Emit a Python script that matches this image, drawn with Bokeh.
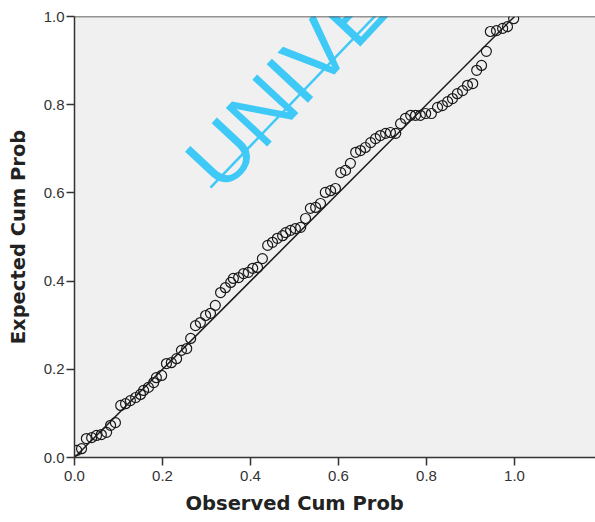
from bokeh.plotting import figure
from bokeh.models import Range1d, FixedTicker, PrintfTickFormatter, Span, Title
from bokeh.core.properties import value
from bokeh.embed import file_html
from bokeh.resources import INLINE

# Observed cumulative probability (x) and expected cumulative probability (y)
observed = [0.005, 0.016, 0.027, 0.039, 0.050, 0.061, 0.073, 0.082, 0.093, 0.105,
            0.116, 0.127, 0.139, 0.150, 0.157, 0.168, 0.180, 0.186, 0.198, 0.209,
            0.220, 0.232, 0.243, 0.255, 0.264, 0.275, 0.286, 0.298, 0.309, 0.320,
            0.332, 0.343, 0.355, 0.361, 0.373, 0.384, 0.395, 0.405, 0.416, 0.427,
            0.439, 0.450, 0.461, 0.473, 0.480, 0.491, 0.502, 0.514, 0.525, 0.536,
            0.548, 0.559, 0.570, 0.582, 0.593, 0.605, 0.616, 0.627, 0.639, 0.650,
            0.661, 0.673, 0.684, 0.695, 0.707, 0.718, 0.730, 0.741, 0.752, 0.764,
            0.775, 0.786, 0.798, 0.811, 0.825, 0.836, 0.848, 0.859, 0.870, 0.882,
            0.893, 0.905, 0.914, 0.925, 0.936, 0.945, 0.959, 0.973, 0.984, 0.998]
expected = [0.016, 0.020, 0.043, 0.045, 0.050, 0.052, 0.057, 0.073, 0.079, 0.118,
            0.122, 0.129, 0.136, 0.143, 0.152, 0.159, 0.170, 0.181, 0.186, 0.213,
            0.215, 0.224, 0.243, 0.247, 0.270, 0.299, 0.306, 0.322, 0.327, 0.345,
            0.374, 0.385, 0.397, 0.406, 0.408, 0.417, 0.420, 0.429, 0.431, 0.451,
            0.481, 0.488, 0.497, 0.503, 0.510, 0.515, 0.519, 0.522, 0.542, 0.565,
            0.567, 0.576, 0.601, 0.605, 0.610, 0.646, 0.651, 0.667, 0.692, 0.696,
            0.703, 0.714, 0.723, 0.730, 0.735, 0.737, 0.735, 0.757, 0.769, 0.776,
            0.776, 0.776, 0.780, 0.780, 0.794, 0.798, 0.807, 0.814, 0.825, 0.832,
            0.844, 0.848, 0.878, 0.889, 0.921, 0.966, 0.968, 0.973, 0.977, 0.995]

# Reference (diagonal) line
ref_x = [0.0, 1.0]
ref_y = [0.0, 1.0]

tick_values = [0.0, 0.2, 0.4, 0.6, 0.8, 1.0]

# Watermark (partially visible)
wm_text = ["UNIVERSITAS"]
wm_x = [0.288]
wm_y = [0.64]
wm_line_x = [0.309, 0.73]
wm_line_y = [0.612, 1.05]

p = figure(width=595, height=522, x_range=Range1d(0, 1.184), y_range=Range1d(0, 1),
           output_backend="svg", toolbar_location=None,
           min_border_left=74, min_border_right=0, min_border_top=16, min_border_bottom=65)

p.background_fill_color = "#F0F0F0"
p.border_fill_color = "white"
p.outline_line_color = None
p.grid.visible = False

# watermark
p.text(x=wm_x, y=wm_y, text=wm_text, angle=0.82, text_color="#3FC9F7",
       text_font=value("Liberation Sans"), text_font_size="82px", text_baseline="alphabetic")
p.line(wm_line_x, wm_line_y, line_color="#3FC9F7", line_width=2.5)

# diagonal
p.line(ref_x, ref_y, line_color="#1a1a1a", line_width=1.5)

# points
p.scatter(observed, expected, marker="circle", size=10, fill_color=None,
          line_color="#1a1a1a", line_width=1.2)

# top border line spanning the full frame width
p.add_layout(Span(location=1.0, dimension="width", line_color="#333333", line_width=1.5))

for ax in (p.xaxis[0], p.yaxis[0]):
    ax.ticker = FixedTicker(ticks=tick_values)
    ax.formatter = PrintfTickFormatter(format="%.1f")
    ax.minor_tick_line_color = None
    ax.major_tick_out = 8
    ax.major_tick_in = 0
    ax.axis_line_color = "#333333"
    ax.axis_line_width = 1.5
    ax.major_tick_line_color = "#333333"
    ax.major_tick_line_width = 1.5
    ax.major_label_text_font = "Liberation Sans"
    ax.major_label_text_font_size = "15px"
    ax.major_label_text_color = "#333333"

p.xaxis.major_label_standoff = 5
p.yaxis.major_label_standoff = 2

p.yaxis.axis_label = "Expected Cum Prob"
p.yaxis.axis_label_text_font = "DejaVu Sans"
p.yaxis.axis_label_text_font_style = "bold"
p.yaxis.axis_label_text_font_size = "19.5px"
p.yaxis.axis_label_text_color = "#222222"
p.yaxis.axis_label_standoff = 11

xt = Title(text="Observed Cum Prob", align="left", offset=111, standoff=12,
           vertical_align="bottom",
           text_font="DejaVu Sans", text_font_style="bold", text_font_size="19.5px",
           text_color="#222222")
p.add_layout(xt, "below")

open("out.html", "w").write(file_html(p, INLINE))
